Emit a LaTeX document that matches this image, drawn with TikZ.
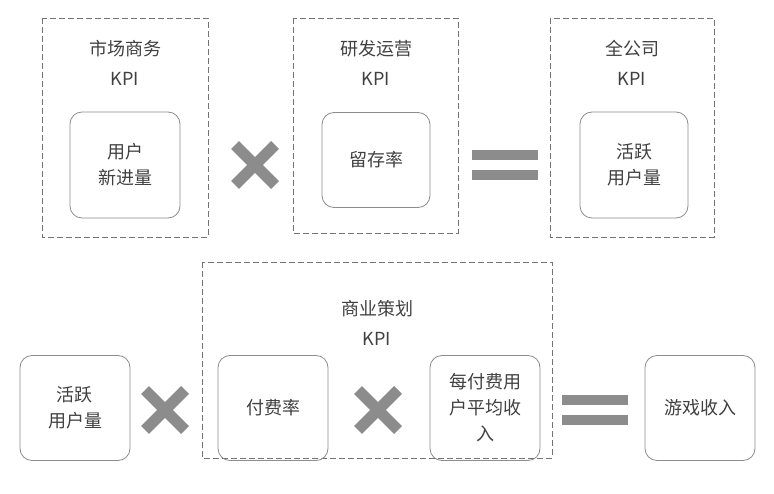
\documentclass[tikz,border=0pt]{standalone}
\usepackage{fontspec}
\setmainfont{Noto Sans CJK SC}
\begin{document}
\begin{tikzpicture}[x=1pt,y=-1pt,
  grp/.style={draw=black!55,dash pattern=on 6pt off 3pt,line width=0.8pt},
  kbox/.style={draw=black!45,rounded corners=12pt,line width=0.8pt,align=center,font=\fontsize{18}{26}\selectfont,text=black!75},
  lbl/.style={align=center,font=\fontsize{18}{30}\selectfont,text=black!75},
  xm/.style={draw=black!45,line width=11pt},
  eqb/.style={fill=black!45}]
\useasboundingbox (0,0) rectangle (774,494);
% groups
\draw[grp] (42,18) rectangle (208,237);
\draw[grp] (293,18) rectangle (458,233);
\draw[grp] (550,18) rectangle (714,237);
\draw[grp] (202,262) rectangle (552,458);
\node[lbl] (l1) at (125,63) {市场商务\\KPI};
\node[lbl] (l2) at (376,63) {研发运营\\KPI};
\node[lbl] (l3) at (632,63) {全公司\\KPI};
\node[lbl] (l4) at (377,323) {商业策划\\KPI};
% boxes
\node[kbox,minimum width=110pt,minimum height=106pt] (a) at (125,165) {用户\\新进量};
\node[kbox,minimum width=108pt,minimum height=95pt] (b) at (376,160) {留存率};
\node[kbox,minimum width=108pt,minimum height=106pt] (c) at (634,165) {活跃\\用户量};
\node[kbox,minimum width=110pt,minimum height=105pt] (d) at (75,408) {活跃\\用户量};
\node[kbox,minimum width=110pt,minimum height=105pt] (e) at (273,408) {付费率};
\node[kbox,minimum width=110pt,minimum height=105pt] (f) at (485,408) {每付费用\\户平均收\\入};
\node[kbox,minimum width=110pt,minimum height=105pt] (g) at (700,408) {游戏收入};
% operators
\foreach \cx/\cy in {255/165,165/410,378/410}{
  \draw[xm] (\cx-20,\cy-20) -- (\cx+20,\cy+20);
  \draw[xm] (\cx-20,\cy+20) -- (\cx+20,\cy-20);
}
\foreach \cx/\cy in {505/165,595/410}{
  \fill[eqb] (\cx-33,\cy-15) rectangle (\cx+33,\cy-5);
  \fill[eqb] (\cx-33,\cy+5) rectangle (\cx+33,\cy+15);
}
\end{tikzpicture}
\end{document}
